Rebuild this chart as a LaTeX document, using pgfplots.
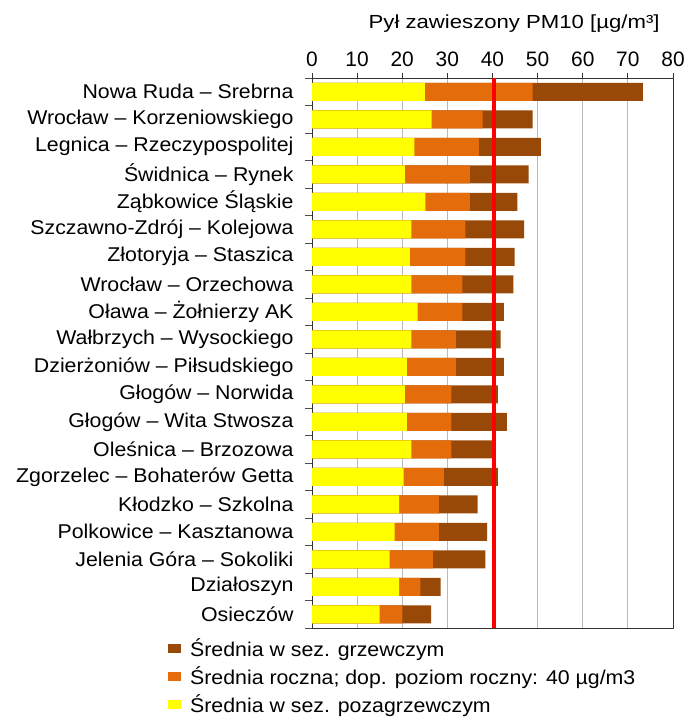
\documentclass[border=0pt]{standalone}
\usepackage{pgfplots}
\pgfplotsset{compat=1.18}
\usepackage{pgfplotstable}
\usepackage{fontspec}
\setmainfont{Liberation Sans}
\newfontfamily\labfont[FakeStretch=1.07]{Liberation Sans}
\newfontfamily\titfont[FakeStretch=1.17]{Liberation Sans}
\definecolor{cyel}{HTML}{FFFF00}
\definecolor{corg}{HTML}{E46C0A}
\definecolor{cbrn}{HTML}{984807}

% pos: 19 = top row (Nowa Ruda), 0 = bottom row (Osieczow)
\pgfplotstableread{
pos nonheat annual heat
19  25.0  48.9  73.3
18  26.5  37.8  48.9
17  22.7  37.0  50.7
16  20.6  35.0  48.0
15  25.1  35.0  45.5
14  22.0  34.0  47.0
13  21.7  34.0  44.9
12  22.0  33.3  44.6
11  23.4  33.3  42.5
10  22.0  31.9  41.8
9   21.0  31.9  42.5
8   20.6  30.9  41.2
7   21.0  30.9  43.2
6   22.0  30.9  40.0
5   20.3  29.2  41.2
4   19.3  28.1  36.7
3   18.3  28.1  38.8
2   17.2  26.8  38.4
1   19.3  24.0  28.5
0   15.0  20.0  26.4
}\pmdata

\begin{document}
\begin{tikzpicture}
\useasboundingbox (0bp,0bp) rectangle (688bp,-720bp);
\begin{axis}[
  at={(312bp,-628bp)}, anchor=south west,
  scale only axis, width=361bp, height=550bp,
  xmin=0, xmax=80, ymin=-0.5, ymax=19.5,
  /pgf/bar width=18bp, /pgf/bar shift=0pt,
  xtick={0,10,...,80},
  xtick pos=right, xticklabel pos=right,
  ytick pos=left,
  ytick={0,...,19},
  yticklabels={Osieczów, Działoszyn, Jelenia Góra – Sokoliki, Polkowice – Kasztanowa,
    Kłodzko – Szkolna, Zgorzelec – Bohaterów Getta, Oleśnica – Brzozowa,
    Głogów – Wita Stwosza, Głogów – Norwida, Dzierżoniów – Piłsudskiego,
    Wałbrzych – Wysockiego, Oława – Żołnierzy AK, Wrocław – Orzechowa,
    Złotoryja – Staszica, Szczawno-Zdrój – Kolejowa, Ząbkowice Śląskie,
    Świdnica – Rynek, Legnica – Rzeczypospolitej, Wrocław – Korzeniowskiego,
    Nowa Ruda – Srebrna},
  minor ytick={-0.5,0.5,...,19.5},
  tick align=outside,
  major tick length=5bp, minor tick length=7bp,
  major y tick style={draw=none},
  minor y tick style={black!70, line width=0.8bp},
  major x tick style={black!80, line width=0.8bp},
  xmajorgrids, grid style={gray!55, line width=0.9bp},
  axis line style={black!80, line width=1bp},
  /pgf/number format/assume math mode=true,
  xticklabel style={font=\fontsize{21}{21}\selectfont, yshift=3bp},
  yticklabel style={font=\labfont\fontsize{20}{20}\selectfont, xshift=-10bp},
  xlabel={Pył zawieszony PM10 [µg/m³]},
  xlabel style={font=\titfont\fontsize{19}{19}\selectfont, at={(axis description cs:0.56,1)}, anchor=base, yshift=50bp},
  legend style={at={(axis description cs:-0.399,-0.016)}, anchor=north west,
    draw=none, fill=none, font=\labfont\fontsize{20}{20}\selectfont,
    row sep=4.5bp, column sep=7bp, inner sep=0pt},
  legend cell align=left,
  legend image code/.code={\fill[#1] (0bp,-4.8bp) rectangle (13bp,4.8bp);},
]
\addplot[xbar, fill=cbrn, draw=none] table[x=heat, y=pos] {\pmdata};
\addlegendentry{Średnia w sez. grzewczym}
\addplot[xbar, fill=corg, draw=none] table[x=annual, y=pos] {\pmdata};
\addlegendentry{Średnia roczna; dop. poziom roczny: 40 µg/m3}
\addplot[xbar, fill=cyel, draw=none] table[x=nonheat, y=pos] {\pmdata};
\addlegendentry{Średnia w sez. pozagrzewczym}
\addplot[red, line width=4.5bp, forget plot] coordinates {(40.3,-0.5) (40.3,19.5)};
\end{axis}
\end{tikzpicture}
\end{document}
